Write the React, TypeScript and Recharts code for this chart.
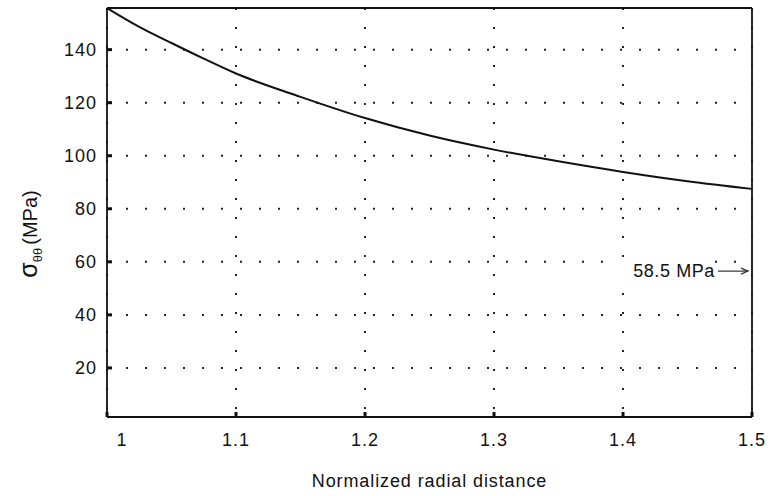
import { LineChart, Line, XAxis, YAxis, CartesianGrid, ReferenceDot, Label } from "recharts"

// normalized radial distance vs hoop stress
const radius = [1, 1.025, 1.05, 1.075, 1.1, 1.15, 1.2, 1.25, 1.3, 1.35, 1.4, 1.45, 1.5]
const hoopStress = [155.7, 148.6, 142.5, 136.6, 131.0, 122.2, 114.2, 107.6, 102.3, 97.9, 93.9, 90.4, 87.5]

const xTicks = [1, 1.1, 1.2, 1.3, 1.4, 1.5]
const yTicks = [20, 40, 60, 80, 100, 120, 140]
const yDomain = [1.5, 155.7]

const markerR = 1.5
const markerStress = 56.5
const markerText = "58.5 MPa"

const chartData = radius.map((r, i) => ({ r, stress: hoopStress[i] }))

const font = "'Liberation Sans', Arial, Helvetica, sans-serif"
const ink = "#111"

function XTick({ x, y, payload }: any) {
  // the "1" label sits a bit right of the axis corner in the original
  const dx = payload.value === 1 ? 15 : 0
  return (
    <text x={x + dx} y={y} dy="0.71em" textAnchor="middle" fontFamily={font} fontSize={18} letterSpacing={1} fill={ink}>
      {payload.value}
    </text>
  )
}

function YTitle() {
  return (
    <text transform="rotate(-90)" x={-234} y={37} textAnchor="middle" fontFamily={font} fill={ink}>
      <tspan fontSize={25}>σ</tspan>
      <tspan fontSize={13} dy={5}>θθ</tspan>
      <tspan fontSize={20} dy={-5} dx={3}>(MPa)</tspan>
    </text>
  )
}

function XTitle({ viewBox }: any) {
  const cx = viewBox.x + viewBox.width / 2
  return (
    <text x={cx} y={viewBox.y + 70} textAnchor="middle" fontFamily={font} fontSize={18} letterSpacing={0.9} fill={ink}>
      Normalized radial distance
    </text>
  )
}

function Marker({ cx, cy }: any) {
  return (
    <g>
      <rect x={cx - 134} y={cy - 13} width={97} height={22} fill="#fff" />
      <text x={cx - 37} y={cy + 6} textAnchor="end" fontFamily={font} fontSize={18} letterSpacing={0.6} fill={ink}>
        {markerText}
      </text>
      <line x1={cx - 34} y1={cy} x2={cx - 4} y2={cy} stroke="#333" strokeWidth={1.2} />
      <polyline points={`${cx - 11},${cy - 3} ${cx - 4},${cy} ${cx - 11},${cy + 3}`} fill="none" stroke="#333" strokeWidth={1.2} />
    </g>
  )
}

export default function App() {
  return (
    <div style={{ position: "fixed", left: 0, top: 0, background: "#fff" }}>
      <LineChart width={780} height={496} data={chartData} margin={{ top: 0, right: 18, bottom: 49, left: 47 }}>
        <CartesianGrid stroke="#222" strokeWidth={2} strokeDasharray="2 17" />
        <XAxis
          dataKey="r"
          type="number"
          domain={[1, 1.5]}
          ticks={xTicks}
          height={30}
          tickSize={-5}
          tickMargin={21}
          tick={<XTick />}
          axisLine={{ stroke: ink, strokeWidth: 1.8 }}
          tickLine={{ stroke: ink, strokeWidth: 3 }}
        >
          <Label content={(p: any) => <XTitle {...p} />} />
        </XAxis>
        <XAxis
          xAxisId="top"
          orientation="top"
          dataKey="r"
          type="number"
          domain={[1, 1.5]}
          ticks={xTicks}
          height={8}
          tickSize={-5}
          tick={false}
          axisLine={{ stroke: ink, strokeWidth: 1.8 }}
          tickLine={{ stroke: ink, strokeWidth: 3 }}
        />
        <YAxis
          type="number"
          domain={yDomain}
          ticks={yTicks}
          width={60}
          tickSize={-5}
          tickMargin={15}
          tick={{ fontFamily: font, fontSize: 18, fill: ink, letterSpacing: 1 }}
          axisLine={{ stroke: ink, strokeWidth: 1.8 }}
          tickLine={{ stroke: ink, strokeWidth: 3 }}
        >
          <Label content={() => <YTitle />} />
        </YAxis>
        <YAxis
          yAxisId="right"
          orientation="right"
          type="number"
          domain={yDomain}
          ticks={yTicks}
          width={10}
          tickSize={-5}
          tick={false}
          axisLine={{ stroke: ink, strokeWidth: 1.8 }}
          tickLine={{ stroke: ink, strokeWidth: 3 }}
        />
        <ReferenceDot x={markerR} y={markerStress} r={0} ifOverflow="visible" shape={(p: any) => <Marker {...p} />} />
        <Line
          type="monotone"
          dataKey="stress"
          stroke="#111"
          strokeWidth={2}
          dot={false}
          isAnimationActive={false}
        />
      </LineChart>
    </div>
  )
}
